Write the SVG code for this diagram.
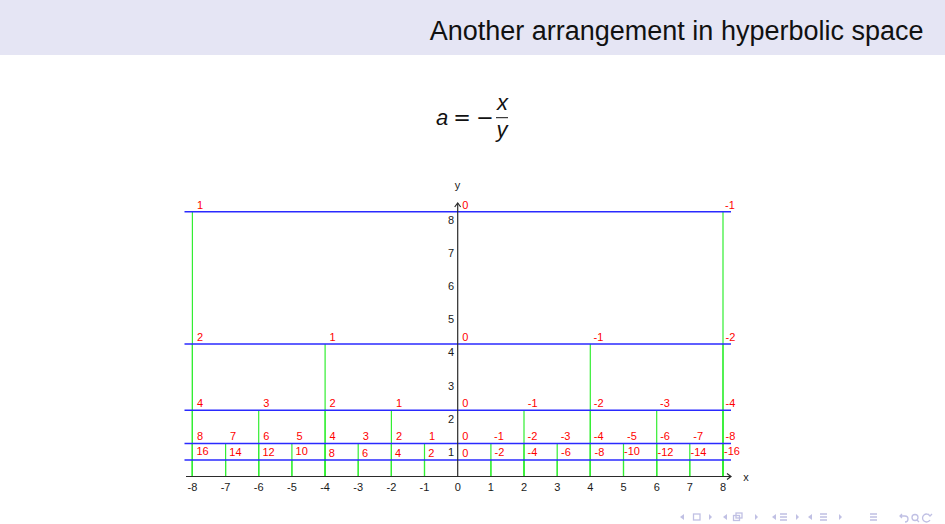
<svg xmlns="http://www.w3.org/2000/svg" width="945" height="524" viewBox="0 0 945 524">
<defs>
<style>
.t{font-family:"Liberation Sans",Arial,sans-serif}
.lab{font-family:"Liberation Sans",Arial,sans-serif;font-size:11px;fill:#ff0000}
.tick{font-family:"Liberation Sans",Arial,sans-serif;font-size:11px;fill:#1a1a1a}
.xt{text-anchor:middle}
.yt{text-anchor:end}
.blue{stroke:#2a2aff;stroke-width:1.5;fill:none}
.green{stroke:#33ee33;stroke-width:1.2;fill:none}
.axis{stroke:#2b2b2b;stroke-width:1.2;fill:none}
.nav{fill:#c0c0e4;stroke:none}
.navs{fill:none;stroke:#c0c0e4;stroke-width:1.3}
.math{font-family:"Liberation Sans",Arial,sans-serif;font-size:22px;fill:#111}
.op{font-family:"DejaVu Sans",sans-serif;font-size:21px;fill:#111}
</style>
<marker id="arr" viewBox="-6 -4 8 8" markerWidth="8" markerHeight="8" refX="0" refY="0" orient="auto" markerUnits="userSpaceOnUse">
<path d="M-4,-3 L0,0 L-4,3" fill="none" stroke="#2b2b2b" stroke-width="1.2"/>
</marker>
</defs>
<rect x="0" y="0" width="945" height="55" fill="#e5e5f4"/>
<text class="t" x="923.5" y="40" font-size="27" fill="#111" text-anchor="end">Another arrangement in hyperbolic space</text>
<g id="formula">
<text class="math" x="436" y="125" font-style="italic">a</text>
<text class="op" x="462" y="125" text-anchor="middle">=</text>
<text class="op" x="485" y="125" text-anchor="middle">−</text>
<line x1="496" y1="117.7" x2="508" y2="117.7" stroke="#111" stroke-width="1"/>
<text class="math" x="502.5" y="110" font-style="italic" text-anchor="middle">x</text>
<text class="math" x="502" y="137" font-style="italic" text-anchor="middle">y</text>
</g>
<g id="connectors">
<path class="green" d="M192.4 211.7V476.5M723 211.7V476.5"/>
<path class="green" d="M192.4 344.1V476.5M325.1 344.1V476.5M590.3 344.1V476.5M723 344.1V476.5"/>
<path class="green" d="M192.4 410.3V476.5M258.7 410.3V476.5M325.1 410.3V476.5M391.4 410.3V476.5M524 410.3V476.5M590.3 410.3V476.5M656.7 410.3V476.5M723 410.3V476.5"/>
<path class="green" d="M192.4 443.4V476.5M225.6 443.4V476.5M258.7 443.4V476.5M291.9 443.4V476.5M325.1 443.4V476.5M358.2 443.4V476.5M391.4 443.4V476.5M424.5 443.4V476.5M490.9 443.4V476.5M524 443.4V476.5M557.2 443.4V476.5M590.3 443.4V476.5M623.5 443.4V476.5M656.7 443.4V476.5M689.8 443.4V476.5M723 443.4V476.5"/>
<path class="green" d="M192.4 460V476.5M225.6 460V476.5M258.7 460V476.5M291.9 460V476.5M325.1 460V476.5M358.2 460V476.5M391.4 460V476.5M424.5 460V476.5M490.9 460V476.5M524 460V476.5M557.2 460V476.5M590.3 460V476.5M623.5 460V476.5M656.7 460V476.5M689.8 460V476.5M723 460V476.5"/>
<line class="blue" x1="184.5" y1="211.7" x2="731" y2="211.7" stroke-width="2" stroke="#4848ff"/>
<line class="blue" x1="184.5" y1="344.1" x2="731" y2="344.1"/>
<line class="blue" x1="184.5" y1="410.3" x2="731" y2="410.3"/>
<line class="blue" x1="184.5" y1="443.4" x2="731" y2="443.4"/>
<line class="blue" x1="184.5" y1="460" x2="731" y2="460"/>
</g>
<g id="axes">
<line class="axis" x1="186" y1="476.5" x2="731" y2="476.5" marker-end="url(#arr)"/>
<line class="axis" x1="457.7" y1="476.5" x2="457.7" y2="203" marker-end="url(#arr)"/>
<text class="tick" x="457.5" y="189" text-anchor="middle">y</text>
<text class="tick" x="746" y="481" text-anchor="middle">x</text>
<g class="tick xt">
<text x="192.4" y="491">-8</text><text x="225.6" y="491">-7</text><text x="258.7" y="491">-6</text><text x="291.9" y="491">-5</text><text x="325.1" y="491">-4</text><text x="358.2" y="491">-3</text><text x="391.4" y="491">-2</text><text x="424.5" y="491">-1</text><text x="457.7" y="491">0</text><text x="490.9" y="491">1</text><text x="524" y="491">2</text><text x="557.2" y="491">3</text><text x="590.3" y="491">4</text><text x="623.5" y="491">5</text><text x="656.7" y="491">6</text><text x="689.8" y="491">7</text><text x="723" y="491">8</text>
</g>
<g class="tick yt">
<text x="454" y="455.7">1</text><text x="454" y="422.6">2</text><text x="454" y="389.5">3</text><text x="454" y="356.4">4</text><text x="454" y="323.3">5</text><text x="454" y="290.2">6</text><text x="454" y="257.1">7</text><text x="454" y="224">8</text>
</g>
</g>
<g id="row-8" class="lab">
<text x="197" y="208.7">1</text><text x="462.2" y="208.7">0</text><text x="725" y="208.7">-1</text>
</g>
<g id="row-4" class="lab">
<text x="197" y="341.1">2</text><text x="329.6" y="341.1">1</text><text x="462.2" y="341.1">0</text><text x="593.5" y="341.1">-1</text><text x="725.5" y="341.1">-2</text>
</g>
<g id="row-2" class="lab">
<text x="197" y="407">4</text><text x="263.2" y="407">3</text><text x="329.6" y="407">2</text><text x="395.9" y="407">1</text><text x="462.2" y="407">0</text><text x="527.8" y="407">-1</text><text x="593.8" y="407">-2</text><text x="660" y="407">-3</text><text x="725.5" y="407">-4</text>
</g>
<g id="row-1" class="lab">
<text x="197" y="440.4">8</text><text x="230.1" y="440.4">7</text><text x="263.2" y="440.4">6</text><text x="296.4" y="440.4">5</text><text x="329.6" y="440.4">4</text><text x="362.7" y="440.4">3</text><text x="395.9" y="440.4">2</text><text x="429" y="440.4">1</text><text x="462.2" y="440.4">0</text><text x="494" y="440.4">-1</text><text x="527.5" y="440.4">-2</text><text x="560.7" y="440.4">-3</text><text x="593.8" y="440.4">-4</text><text x="627" y="440.4">-5</text><text x="660.2" y="440.4">-6</text><text x="693.3" y="440.4">-7</text><text x="725.5" y="440.4">-8</text>
</g>
<g id="row-half" class="lab">
<text x="196.5" y="455.3">16</text><text x="229.3" y="456">14</text><text x="262.4" y="456">12</text><text x="295.6" y="455">10</text><text x="328.8" y="457">8</text><text x="361.9" y="457">6</text><text x="395.1" y="456.5">4</text><text x="428.2" y="457">2</text><text x="462.2" y="456.5">0</text><text x="494.5" y="456">-2</text><text x="527.5" y="456">-4</text><text x="561" y="456">-6</text><text x="594.5" y="456">-8</text><text x="624" y="455.3">-10</text><text x="657.5" y="456">-12</text><text x="690.5" y="456">-14</text><text x="724" y="455.3">-16</text>
</g>
<g id="nav">
<path class="nav" d="M680 517l4-3v6z"/>
<rect class="navs" x="693.5" y="514" width="6.5" height="6"/>
<path class="nav" d="M712 517l-3-3v6z"/>
<path class="nav" d="M723 517l4-3v6z"/>
<rect class="navs" x="736" y="513" width="6" height="5"/>
<rect class="navs" x="733.5" y="515.5" width="6" height="5"/>
<path class="nav" d="M758 517l-3-3v6z"/>
<path class="nav" d="M772 517l4-3v6z"/>
<path class="navs" d="M780 514h7M780 517h7M780 520h7"/>
<path class="nav" d="M799 517l-3-3v6z"/>
<path class="nav" d="M808 517l4-3v6z"/>
<path class="navs" d="M820 514h7M820 517h7M820 520h7"/>
<path class="nav" d="M842 517l-3-3v6z"/>
<path class="navs" d="M870 514h7M870 517h7M870 520h7"/>
<path class="navs" d="M902 514l-2 2 2 2M900 516h5a3 3 0 0 1 0 6"/>
<circle class="navs" cx="915" cy="517.5" r="3"/>
<path class="navs" d="M917 520l2 2"/>
<path class="navs" d="M930 516a4 4 0 1 0 0 4M928 514l2 2 2-2"/>
</g>
</svg>
